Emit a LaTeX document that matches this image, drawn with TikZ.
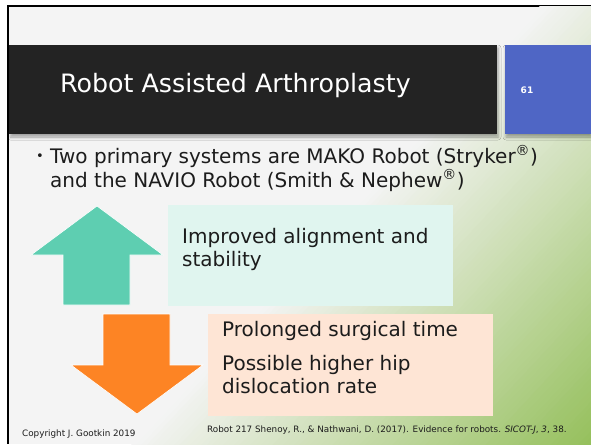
\documentclass[tikz,border=0pt]{standalone}
\usepackage{fontspec}
\setmainfont{DejaVu Sans}
\usetikzlibrary{shadows.blur}
\definecolor{slidebg}{HTML}{F4F4F4}
\definecolor{bggreen}{HTML}{94BF5A}
\definecolor{titlebar}{HTML}{232323}
\definecolor{numblue}{HTML}{4F66C5}
\definecolor{upcol}{HTML}{5ECEB1}
\definecolor{goodbox}{HTML}{E0F5EF}
\definecolor{downcol}{HTML}{FD8424}
\definecolor{badbox}{HTML}{FEE5D5}
\definecolor{bodytext}{HTML}{1C1C1C}
\tikzset{
  bodyline/.style={anchor=base west, inner sep=0pt, text=bodytext, font=\fontsize{20}{24}\selectfont},
  footline/.style={anchor=base west, inner sep=0pt, text=bodytext, font=\fontsize{8.8}{10}\selectfont},
  panel/.style={anchor=north west, inner sep=0pt, outer sep=0pt},
  arrowshape/.style={draw=white, line width=0.6pt, line join=miter},
  barshadow/.style={blur shadow={shadow xshift=1pt, shadow yshift=-3pt, shadow blur radius=3pt, shadow opacity=35}}
}
\begin{document}
\begin{tikzpicture}[x=1pt,y=-1pt]
\useasboundingbox (0,0) rectangle (591,444);
% frame and background
\fill[white] (0,0) rectangle (591,444);
\fill[black] (7,5) rectangle (591,444);
\fill[slidebg] (9.3,7) rectangle (591,444);
\begin{scope}
  \clip (9.3,7) rectangle (591,444);
  \foreach \i in {0,...,89} {
    \pgfmathsetmacro\pa{400+4*\i}
    \pgfmathsetmacro\pb{\pa+4.8}
    \pgfmathtruncatemacro\g{min(100,(\pa+2-400)/340*100)}
    \fill[bggreen!\g!slidebg]
      ({0.73*\pa-612},{0.68*\pa+657}) -- ({0.73*\pa+612},{0.68*\pa-657}) --
      ({0.73*\pb+612},{0.68*\pb-657}) -- ({0.73*\pb-612},{0.68*\pb+657}) -- cycle;
  }
\end{scope}
% title bar and slide number
\node (bar) [panel, fill=titlebar, minimum width=487.7pt, minimum height=89pt, barshadow] at (9.3,45) {};
\node (numbox) [panel, fill=numblue, minimum width=86pt, minimum height=89pt, barshadow] at (505,45) {};
\node (title) [anchor=base west, inner sep=0pt, text=white, font=\fontsize{25.3}{30}\selectfont] at (60,92.5) {Robot Assisted Arthroplasty};
\node (num) [inner sep=0pt, text=white, font=\fontsize{9}{10}\selectfont\bfseries] at (527,90) {61};
% bullet text
\node (dot) [inner sep=0pt, text=bodytext, font=\fontsize{13}{13}\selectfont] at (40,157) {•};
\node (line1) [bodyline] at (50,163) {Two primary systems are MAKO Robot (Stryker\textsuperscript{®})};
\node (line2) [bodyline] at (50,187) {and the NAVIO Robot (Smith \& Nephew\textsuperscript{®})};
% up arrow and its box
\fill[upcol, arrowshape] (97,206) -- (163,255) -- (130,255) -- (130,305) -- (63,305) -- (63,255) -- (31,255) -- cycle;
\node (good) [panel, fill=goodbox, minimum width=285pt, minimum height=101pt] at (168,205) {};
\node (g1) [bodyline] at (182,243.5) {Improved alignment and};
\node (g2) [bodyline] at (182,266) {stability};
% down arrow and its box
\fill[downcol, arrowshape] (137,414) -- (203,365) -- (170,365) -- (170,314) -- (103,314) -- (103,365) -- (71,365) -- cycle;
\node (bad) [panel, fill=badbox, minimum width=285pt, minimum height=102pt] at (208,314) {};
\node (b1) [bodyline] at (222,336) {Prolonged surgical time};
\node (b2) [bodyline] at (222,370.5) {Possible higher hip};
\node (b3) [bodyline] at (222,393.5) {dislocation rate};
% footer
\node (copy) [footline] at (22,436) {Copyright J.\ Gootkin 2019};
\node (cite) [footline] at (207,432) {Robot 217 Shenoy, R., \& Nathwani, D. (2017). Evidence for robots. \textit{SICOT-J}, \textit{3}, 38.};
\end{tikzpicture}
\end{document}
